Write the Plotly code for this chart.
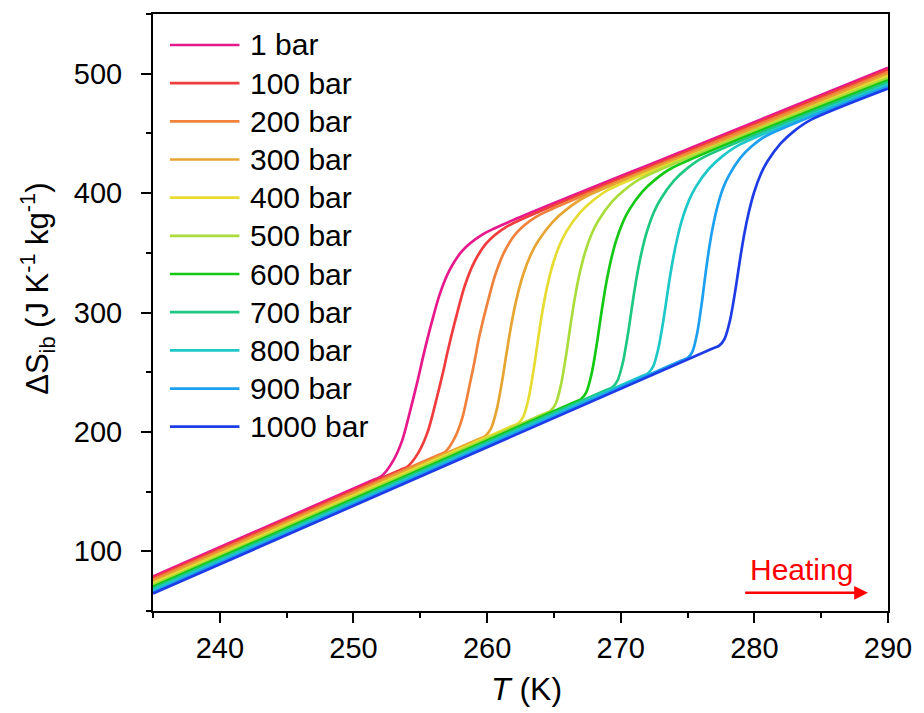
import plotly.graph_objects as go

# Pressure series: isobaric entropy change vs temperature
labels = ["1 bar", "100 bar", "200 bar", "300 bar", "400 bar", "500 bar",
          "600 bar", "700 bar", "800 bar", "900 bar", "1000 bar"]
colors = ["#E6198C", "#F03C3C", "#F0823C", "#E6A532", "#E6DC32", "#AADC3C",
          "#14C814", "#1EC882", "#1EC8C8", "#1EA0F0", "#1E3CE6"]

T_1 = [235, 251.55, 252.05, 252.89, 253.63, 254.36, 254.78, 255.2, 255.83, 256.46, 257.2, 258.14, 259.61, 262, 275, 290]
S_1 = [79, 160.1, 162.5, 174.3, 192.3, 222.9, 241.8, 262.4, 290.6, 315.4, 335.6, 351.6, 365.0, 377.6, 436.8, 505]

T_100 = [235, 253.53, 254.03, 254.85, 255.56, 256.28, 256.69, 257.1, 257.72, 258.33, 259.05, 259.97, 261.41, 264, 275, 290]
S_100 = [77.6, 168.4, 170.8, 182.4, 200.2, 230.5, 249.3, 269.8, 297.8, 322.4, 342.4, 358.3, 371.5, 385.0, 435.0, 503.3]

T_200 = [235, 256.35, 256.85, 257.53, 258.13, 258.72, 259.06, 259.4, 260.0, 260.6, 261.3, 262.2, 263.6, 266, 275, 290]
S_200 = [76.1, 180.7, 183.2, 194.0, 211.2, 240.7, 259.0, 279.0, 306.8, 331.2, 351.0, 366.7, 379.7, 392.3, 433.3, 501.5]

T_300 = [235, 259.34, 259.84, 260.28, 260.72, 261.16, 261.38, 261.6, 261.93, 262.26, 262.7, 263.25, 263.8, 264.9, 266.0, 267.3, 278, 290]
S_300 = [74.7, 193.9, 196.4, 202.5, 218.6, 244.9, 260.6, 276.0, 296.8, 313.9, 331.8, 348.0, 359.5, 375.7, 386.8, 396.5, 445.2, 499.8]

T_400 = [235, 261.82, 262.32, 262.72, 263.12, 263.52, 263.72, 263.92, 264.22, 264.52, 264.92, 265.42, 265.92, 266.92, 267.92, 269.1, 280, 290]
S_400 = [73.2, 204.7, 207.1, 213.0, 228.8, 254.8, 270.2, 285.5, 306.0, 322.8, 340.4, 356.3, 367.5, 383.2, 393.8, 402.9, 452.5, 498.0]

T_500 = [235, 264.22, 264.72, 265.12, 265.52, 265.92, 266.12, 266.32, 266.62, 266.92, 267.32, 267.82, 268.32, 269.32, 270.32, 271.5, 290]
S_500 = [71.8, 215.0, 217.4, 223.3, 239.0, 264.8, 280.1, 295.3, 315.6, 332.4, 349.9, 365.7, 376.8, 392.4, 403.0, 412.1, 496.3]

T_600 = [235, 266.52, 267.02, 267.42, 267.82, 268.22, 268.42, 268.62, 268.92, 269.22, 269.62, 270.12, 270.62, 271.62, 272.62, 273.8, 290]
S_600 = [70.4, 224.8, 227.3, 233.1, 248.7, 274.4, 289.6, 304.6, 324.9, 341.5, 358.9, 374.6, 385.7, 401.2, 411.7, 420.8, 494.5]

T_700 = [235, 268.87, 269.37, 269.77, 270.17, 270.57, 270.77, 270.97, 271.27, 271.57, 271.97, 272.47, 272.97, 273.97, 274.97, 276.15, 290]
S_700 = [68.9, 234.9, 237.3, 243.2, 258.7, 284.1, 299.3, 314.2, 334.3, 350.9, 368.1, 383.8, 394.7, 410.2, 420.7, 429.7, 492.8]

T_800 = [235, 271.52, 272.02, 272.42, 272.82, 273.22, 273.42, 273.62, 273.92, 274.22, 274.62, 275.12, 275.62, 276.62, 277.62, 278.8, 290]
S_800 = [67.5, 246.4, 248.9, 254.7, 270.1, 295.4, 310.4, 325.3, 345.2, 361.6, 378.8, 394.3, 405.2, 420.6, 431.0, 440.0, 491.0]

T_900 = [235, 274.54, 275.04, 275.38, 275.72, 276.06, 276.23, 276.4, 276.65, 276.91, 277.25, 277.67, 278.1, 278.95, 279.8, 280.8, 290]
S_900 = [66.0, 259.8, 262.2, 267.7, 282.7, 307.5, 322.3, 336.9, 356.4, 372.6, 389.3, 404.4, 414.9, 429.5, 439.2, 447.4, 489.3]

T_1000 = [235, 276.87, 277.37, 277.77, 278.17, 278.57, 278.77, 278.97, 279.27, 279.57, 279.97, 280.47, 280.97, 281.97, 282.97, 284.15, 290]
S_1000 = [64.6, 269.8, 272.2, 278.0, 293.1, 318.1, 332.9, 347.5, 367.2, 383.3, 400.3, 415.6, 426.4, 441.6, 451.9, 460.9, 487.5]

temps = [T_1, T_100, T_200, T_300, T_400, T_500, T_600, T_700, T_800, T_900, T_1000]
entropies = [S_1, S_100, S_200, S_300, S_400, S_500, S_600, S_700, S_800, S_900, S_1000]

FONT = 'Arial, "Liberation Sans", sans-serif'

fig = go.Figure()
for name, col, t, s in zip(labels, colors, temps, entropies):
    fig.add_trace(go.Scatter(
        x=t, y=s, name=name, mode="lines",
        line=dict(color=col, width=2.7, shape="spline", smoothing=0.8),
        showlegend=False, hoverinfo="skip",
    ))

# Hand-placed legend: sample line + label per pressure, stacked down the top-left
leg_x0, leg_x1, leg_text_x = 0.023, 0.1176, 0.129
leg_top, leg_step = 0.9481, 0.06394
for k, (name, col) in enumerate(zip(labels, colors)):
    yk = leg_top - k * leg_step
    fig.add_shape(type="line", xref="paper", yref="paper",
                  x0=leg_x0, x1=leg_x1, y0=yk, y1=yk,
                  line=dict(color=col, width=2.7))
    fig.add_annotation(xref="paper", yref="paper", x=leg_text_x, y=yk,
                       text=name, showarrow=False, xanchor="left", yanchor="middle",
                       font=dict(family=FONT, size=30, color="black"))

# Heating direction marker
fig.add_annotation(x=283.5, y=85, xref="x", yref="y", text="Heating",
                   showarrow=False, font=dict(family=FONT, size=30, color="#FF0000"))
fig.add_annotation(x=288.5, y=65.2, ax=279.2, ay=65.2, xref="x", yref="y",
                   axref="x", ayref="y", text="", showarrow=True,
                   arrowhead=2, arrowsize=1.1, arrowwidth=2.5, arrowcolor="#FF0000")

# Axis titles
fig.add_annotation(xref="paper", yref="paper", x=0.508, y=-0.131,
                   text="<i>T</i> (K)", showarrow=False,
                   xanchor="center", yanchor="middle",
                   font=dict(family=FONT, size=32, color="black"))
fig.add_annotation(xref="paper", yref="paper", x=-0.157, y=0.539,
                   text="ΔS<sub>ib</sub> (J K<sup>-1</sup> kg<sup>-1</sup>)",
                   showarrow=False, textangle=-90,
                   xanchor="center", yanchor="middle",
                   font=dict(family=FONT, size=31, color="black"))

axis_common = dict(
    showline=True, linewidth=2, linecolor="black", mirror=True,
    showgrid=False, zeroline=False,
    ticks="outside", ticklen=10, tickwidth=2, tickcolor="black",
    tickfont=dict(family=FONT, size=29, color="black"),
)
fig.update_xaxes(range=[235, 290], tick0=240, dtick=10,
                 minor=dict(tick0=235, dtick=5, ticks="outside", ticklen=5,
                            tickwidth=2, tickcolor="black"),
                 ticklabelstandoff=0, **axis_common)
fig.update_yaxes(range=[50, 550], tick0=0, dtick=100,
                 minor=dict(tick0=0, dtick=50, ticks="outside", ticklen=5,
                            tickwidth=2, tickcolor="black"),
                 ticklabelstandoff=13, **axis_common)

fig.update_layout(
    width=924, height=713,
    margin=dict(l=153, r=31, t=14, b=102),
    plot_bgcolor="white", paper_bgcolor="white",
    font=dict(family=FONT, size=29, color="black"),
    showlegend=False,
)

fig.write_html("out.html")
